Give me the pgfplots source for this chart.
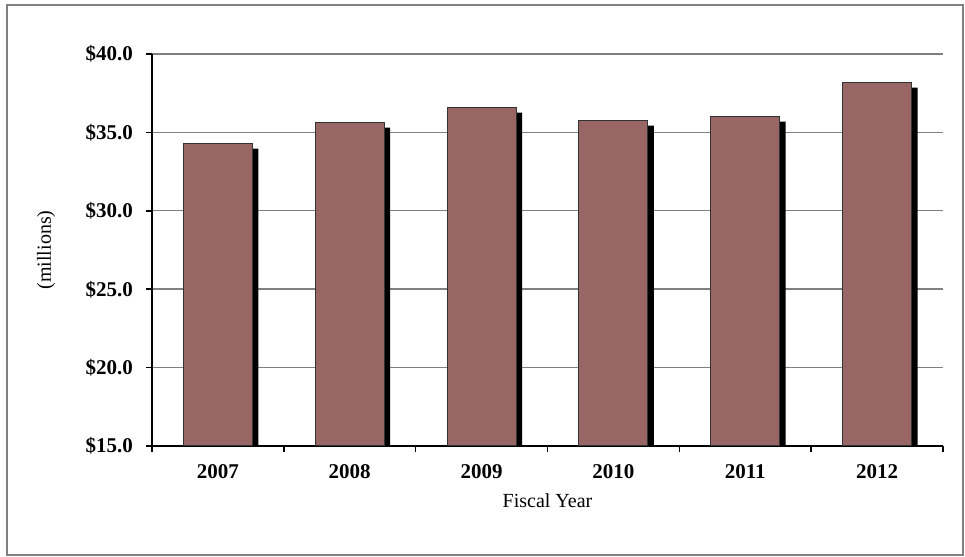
\documentclass[border=0pt]{standalone}
\usepackage{pgfplots}
\pgfplotsset{compat=1.18}
\usepackage{fontspec}
\setmainfont{Liberation Serif}
\definecolor{barfill}{RGB}{153,102,102}
\definecolor{gridgray}{RGB}{128,128,128}
\begin{document}
\begin{tikzpicture}[x=1pt,y=1pt]
% picture frame in px units scaled 0.5pt/px, origin at axis lower-left (px 152,446)
\useasboundingbox (-76,-55.5) rectangle (406.5,223);
\draw[gridgray, line width=0.8pt] (-72.5,-54.5) rectangle (405.5,220.5);
\begin{axis}[
  at={(0,0)}, anchor=south west,
  scale only axis,
  width=395.5pt, height=196pt,
  xmin=-0.5, xmax=5.5,
  ymin=15, ymax=40,
  ytick={15,20,25,30,35,40},
  xtick={0,1,2,3,4,5},
  xticklabels={2007,2008,2009,2010,2011,2012},
  minor xtick={-0.5,0.5,1.5,2.5,3.5,4.5,5.5},
  major x tick style={draw=none},
  minor tick length=3pt,
  major tick length=3pt,
  tick align=outside,
  axis x line*=bottom,
  axis y line*=left,
  axis line style={line width=1.2pt, -},
  every tick/.style={black, line width=0.8pt},
  ymajorgrids,
  grid style={gridgray, line width=0.7pt},
  /pgf/number format/assume math mode=true,
  ticklabel style={font=\bfseries\fontsize{10.5}{12}\selectfont},
  yticklabel={\$\pgfmathprintnumber[fixed,fixed zerofill,precision=1]{\tick}},
  yticklabel style={xshift=-3pt},
  xticklabel style={yshift=-2.5pt},
  ylabel={(millions)},
  xlabel={Fiscal Year},
  label style={font=\fontsize{11.2}{13}\selectfont},
  every axis y label/.style={at={(axis description cs:0,0.5)}, xshift=-53pt, rotate=90, anchor=center},
  every axis x label/.style={at={(axis description cs:0.5,0)}, yshift=-27.5pt, anchor=center},
  ybar, bar width=34.5pt,
  clip=true,
]
\addplot[fill=black, draw=none, xshift=3pt, yshift=-2.5pt, forget plot]
  coordinates {(0,34.28) (1,35.62) (2,36.58) (3,35.75) (4,36.0) (5,38.17)};
\addplot[fill=barfill, draw=black!80, line width=0.5pt]
  coordinates {(0,34.28) (1,35.62) (2,36.58) (3,35.75) (4,36.0) (5,38.17)};
\end{axis}
\end{tikzpicture}
\end{document}
